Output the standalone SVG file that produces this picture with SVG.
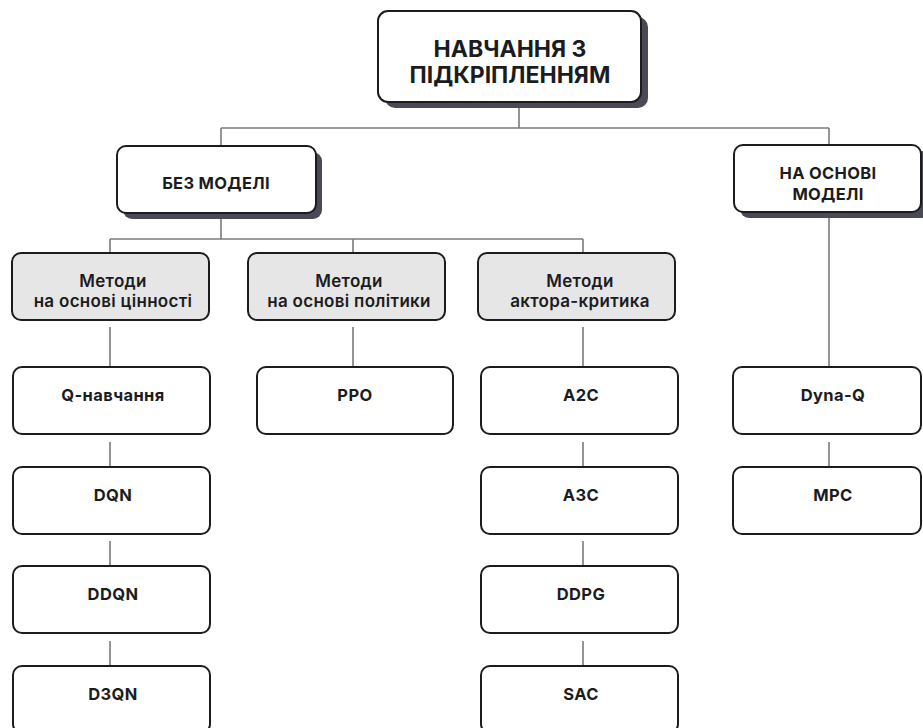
<svg xmlns="http://www.w3.org/2000/svg" width="923" height="728" viewBox="0 0 923 728">
  <defs>
    <style>
      .box { fill: #ffffff; stroke: #1c1c1e; stroke-width: 2; }
      .grey { fill: #e6e6e6; stroke: #1c1c1e; stroke-width: 2; }
      .shadow { fill: #4a4a56; }
      .conn line { stroke: #7a7a7a; stroke-width: 1.6; }
      text { font-family: Inter, "Noto Sans", "DejaVu Sans", sans-serif; fill: #1c1c1e; text-anchor: middle; }
      .t1 { font-size: 23px; font-weight: 700; }
      .t2 { font-size: 16.5px; font-weight: 700; letter-spacing: 0.3px; }
      .t3 { font-size: 17px; font-weight: 600; letter-spacing: 0.3px; }
      .t4 { font-size: 16.5px; font-weight: 700; letter-spacing: 0.4px; }
    </style>
  </defs>
  <rect width="923" height="728" fill="#ffffff"/>

  <g id="connectors" class="conn">
    <line x1="519" y1="108" x2="519" y2="128"/>
    <line x1="221" y1="128" x2="829" y2="128"/>
    <line x1="221" y1="128" x2="221" y2="146"/>
    <line x1="829" y1="128" x2="829" y2="145"/>
    <line x1="221" y1="219" x2="221" y2="239"/>
    <line x1="110" y1="239" x2="583" y2="239"/>
    <line x1="110" y1="239" x2="110" y2="253"/>
    <line x1="353" y1="239" x2="353" y2="253"/>
    <line x1="583" y1="239" x2="583" y2="253"/>
    <line x1="829" y1="218" x2="829" y2="367"/>
    <line x1="110" y1="327" x2="110" y2="367"/>
    <line x1="353" y1="327" x2="353" y2="367"/>
    <line x1="583" y1="327" x2="583" y2="367"/>
    <line x1="110" y1="442" x2="110" y2="467"/>
    <line x1="110" y1="541" x2="110" y2="566"/>
    <line x1="110" y1="641" x2="110" y2="666"/>
    <line x1="583" y1="442" x2="583" y2="467"/>
    <line x1="583" y1="541" x2="583" y2="566"/>
    <line x1="583" y1="641" x2="583" y2="666"/>
    <line x1="829" y1="442" x2="829" y2="467"/>
  </g>

  <g id="root">
    <rect class="shadow" x="385" y="17" width="263" height="91" rx="10"/>
    <rect class="box" x="378" y="11" width="263" height="91" rx="10"/>
    <text class="t1" x="510" y="57">НАВЧАННЯ З</text>
    <text class="t1" x="510" y="83">ПІДКРІПЛЕННЯМ</text>
  </g>

  <g id="model-free">
    <rect class="shadow" x="123" y="152" width="199" height="67" rx="9"/>
    <rect class="box" x="117" y="146" width="199" height="67" rx="9"/>
    <text class="t2" x="216" y="189">БЕЗ МОДЕЛІ</text>
  </g>

  <g id="model-based">
    <rect class="shadow" x="740" y="151" width="190" height="67" rx="9"/>
    <rect class="box" x="734" y="145" width="187" height="67" rx="9"/>
    <text class="t2" x="828" y="179">НА ОСНОВІ</text>
    <text class="t2" x="828" y="200">МОДЕЛІ</text>
  </g>

  <g id="value-based">
    <rect class="grey" x="12" y="253" width="197" height="67" rx="9"/>
    <text class="t3" x="113" y="287">Методи</text>
    <text class="t3" x="113" y="307">на основі цінності</text>
  </g>

  <g id="policy-based">
    <rect class="grey" x="248" y="253" width="197" height="67" rx="9"/>
    <text class="t3" x="349" y="287">Методи</text>
    <text class="t3" x="349" y="307">на основі політики</text>
  </g>

  <g id="actor-critic">
    <rect class="grey" x="478" y="253" width="197" height="67" rx="9"/>
    <text class="t3" x="580" y="287">Методи</text>
    <text class="t3" x="580" y="307">актора-критика</text>
  </g>

  <g id="q-learning">
    <rect class="box" x="13" y="367" width="197" height="67" rx="9"/>
    <text class="t4" x="113" y="401">Q-навчання</text>
  </g>
  <g id="dqn">
    <rect class="box" x="13" y="467" width="197" height="67" rx="9"/>
    <text class="t4" x="113" y="501">DQN</text>
  </g>
  <g id="ddqn">
    <rect class="box" x="13" y="566" width="197" height="67" rx="9"/>
    <text class="t4" x="113" y="600">DDQN</text>
  </g>
  <g id="d3qn">
    <rect class="box" x="13" y="666" width="197" height="67" rx="9"/>
    <text class="t4" x="113" y="700">D3QN</text>
  </g>

  <g id="ppo">
    <rect class="box" x="257" y="367" width="196" height="67" rx="9"/>
    <text class="t4" x="355" y="401">PPO</text>
  </g>

  <g id="a2c">
    <rect class="box" x="481" y="367" width="197" height="67" rx="9"/>
    <text class="t4" x="581" y="401">A2C</text>
  </g>
  <g id="a3c">
    <rect class="box" x="481" y="467" width="197" height="67" rx="9"/>
    <text class="t4" x="581" y="501">A3C</text>
  </g>
  <g id="ddpg">
    <rect class="box" x="481" y="566" width="197" height="67" rx="9"/>
    <text class="t4" x="581" y="600">DDPG</text>
  </g>
  <g id="sac">
    <rect class="box" x="481" y="666" width="197" height="67" rx="9"/>
    <text class="t4" x="581" y="700">SAC</text>
  </g>

  <g id="dyna-q">
    <rect class="box" x="733" y="367" width="188" height="67" rx="9"/>
    <text class="t4" x="833" y="401">Dyna-Q</text>
  </g>
  <g id="mpc">
    <rect class="box" x="733" y="467" width="188" height="67" rx="9"/>
    <text class="t4" x="833" y="501">MPC</text>
  </g>
</svg>
